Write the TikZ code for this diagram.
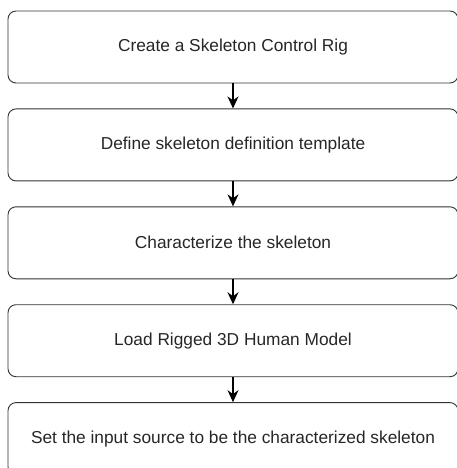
\documentclass[tikz,border=0pt]{standalone}
\usepackage{fontspec}
\setmainfont{Liberation Sans}
\usetikzlibrary{positioning, arrows.meta}

\begin{document}
\begin{tikzpicture}[x=1pt, y=1pt, node distance=25pt, auto,
  stage/.style={draw=black!80, line width=0.9pt, rounded corners=8pt, minimum width=450pt, minimum height=72pt, align=center, font=\fontsize{17.3}{20}\selectfont, text=black!85},
  flow/.style={-{Stealth[length=12pt, width=11pt]}, line width=1.3pt}]
  \useasboundingbox (0,0) rectangle (457,-468);
  \node[stage] (rig) at (233,-47) {Create a Skeleton Control Rig};
  \node[stage, below=of rig] (tmpl) {Define skeleton definition template};
  \node[stage, below=of tmpl] (char) {Characterize the skeleton};
  \node[stage, below=of char] (model) {Load Rigged 3D Human Model};
  \node[stage, below=of model] (src) {Set the input source to be the characterized skeleton};
  \draw[flow] (rig) -- (tmpl);
  \draw[flow] (tmpl) -- (char);
  \draw[flow] (char) -- (model);
  \draw[flow] (model) -- (src);
\end{tikzpicture}
\end{document}
